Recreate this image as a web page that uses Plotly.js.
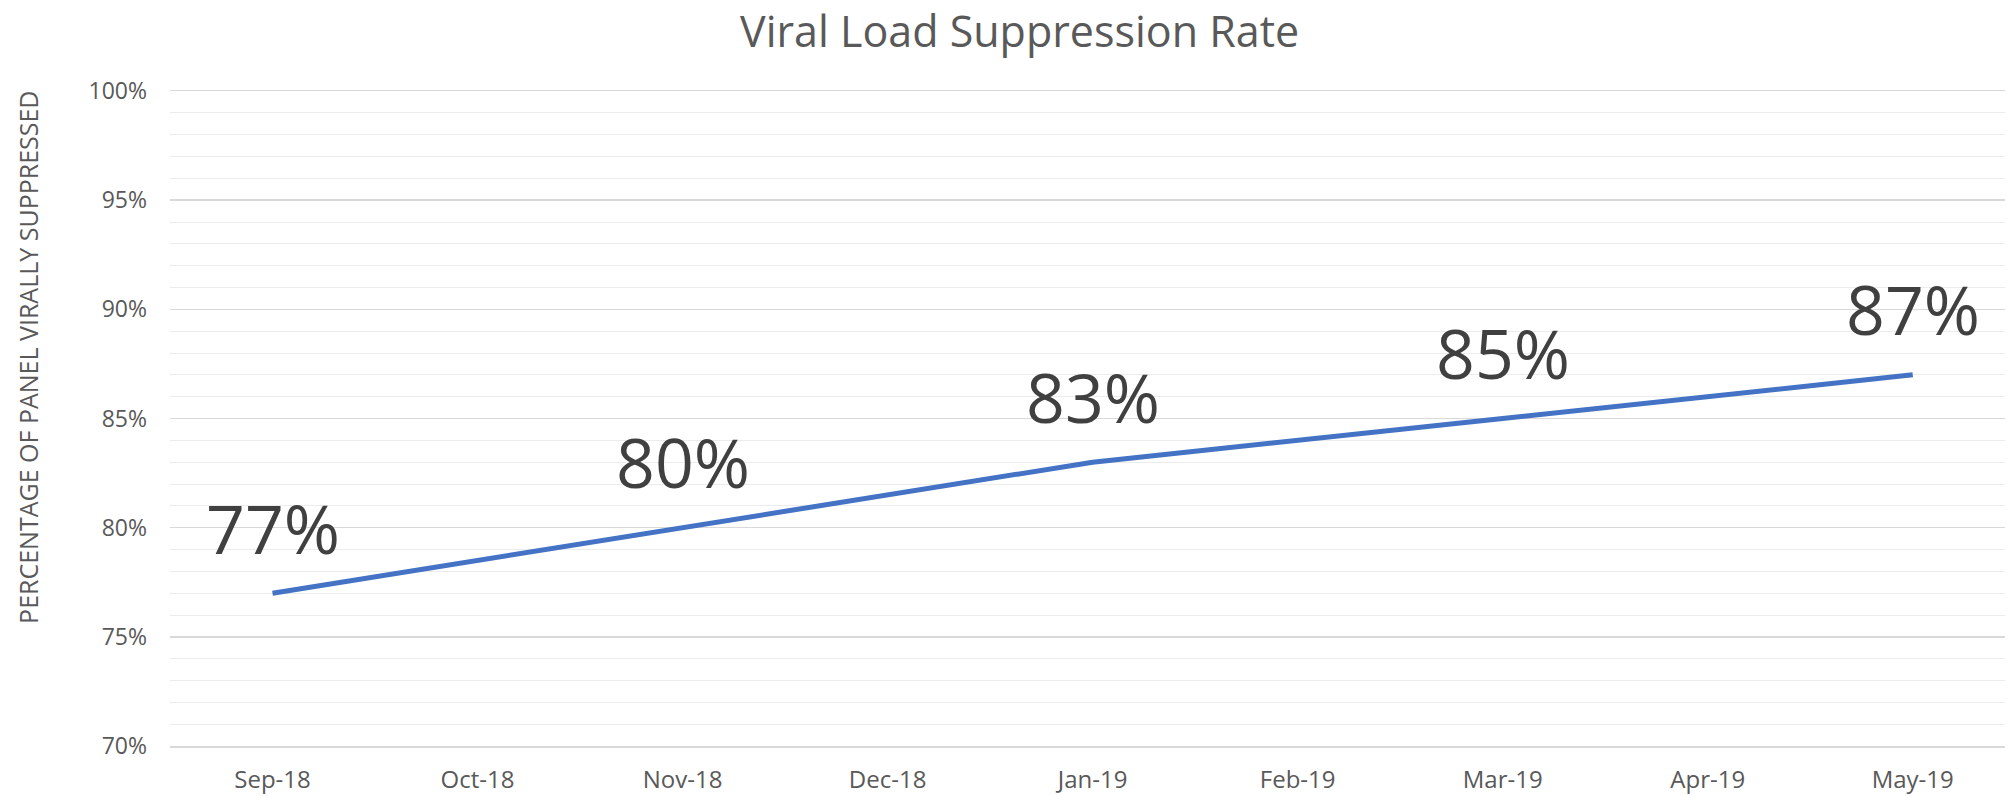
<!DOCTYPE html>
<html>
<head>
<meta charset="utf-8">
<script src="https://cdn.plot.ly/plotly-3.0.1.min.js"></script>
<style>html,body{margin:0;padding:0;background:#fff;}#chart{width:2007px;height:796px;}</style>
</head>
<body>
<div id="chart"></div>
<script>
const months = ["Sep-18","Oct-18","Nov-18","Dec-18","Jan-19","Feb-19","Mar-19","Apr-19","May-19"];
const suppression = [77, null, 80, null, 83, null, 85, null, 87];
const labelText = ["77%", "", "80%", "", "83%", "", "85%", "", "87%"];
const chartTitle = "Viral Load Suppression Rate";
const yTitle = "PERCENTAGE OF PANEL VIRALLY SUPPRESSED";

const annotations = [];
months.forEach((m, i) => {
  if (suppression[i] !== null) {
    annotations.push({
      x: m, y: suppression[i], xref: 'x', yref: 'y',
      text: labelText[i], showarrow: false,
      yanchor: 'middle', xanchor: 'center', yshift: 66,
      font: {family: 'Open Sans', size: 68, color: '#404040'}
    });
  }
});
// y-axis title (placed like the reference, slightly above the axis centre)
annotations.push({
  text: yTitle, xref: 'paper', yref: 'paper', x: -0.0774, y: 0.594,
  xanchor: 'center', yanchor: 'middle', textangle: -90, showarrow: false,
  font: {family: 'Open Sans', size: 25, color: '#595959'}
});

const trace = {
  x: months, y: suppression, type: 'scatter', mode: 'lines',
  connectgaps: true,
  line: {color: '#4472C4', width: 5},
  hoverinfo: 'x+y'
};

const layout = {
  width: 2007, height: 796,
  margin: {l: 170, r: 2, t: 91, b: 50},
  paper_bgcolor: '#fff', plot_bgcolor: '#fff',
  showlegend: false,
  title: {text: chartTitle, x: 0.508, xanchor: 'center', y: 0.96, yanchor: 'middle', yref: 'container',
          font: {family: 'Open Sans', size: 43, color: '#595959'}},
  xaxis: {
    type: 'category', range: [-0.5, 8.45], showgrid: false, zeroline: false,
    showline: true, mirror: true, linecolor: '#d9d9d9', linewidth: 1.5,
    ticks: '', ticklabelstandoff: 12,
    tickfont: {family: 'Open Sans', size: 24, color: '#595959'}
  },
  yaxis: {
    range: [70, 100], dtick: 5, tick0: 70, ticksuffix: '%',
    showgrid: true, gridcolor: '#d9d9d9', gridwidth: 1.5, zeroline: false, showline: false,
    ticks: '', ticklabelstandoff: 22,
    tickfont: {family: 'Open Sans', size: 23, color: '#595959'},
    minor: {dtick: 1, tick0: 70, showgrid: true, gridcolor: '#ececec', gridwidth: 1}
  },
  annotations: annotations
};

Plotly.newPlot('chart', [trace], layout, {displayModeBar: false, staticPlot: true});
</script>
</body>
</html>
